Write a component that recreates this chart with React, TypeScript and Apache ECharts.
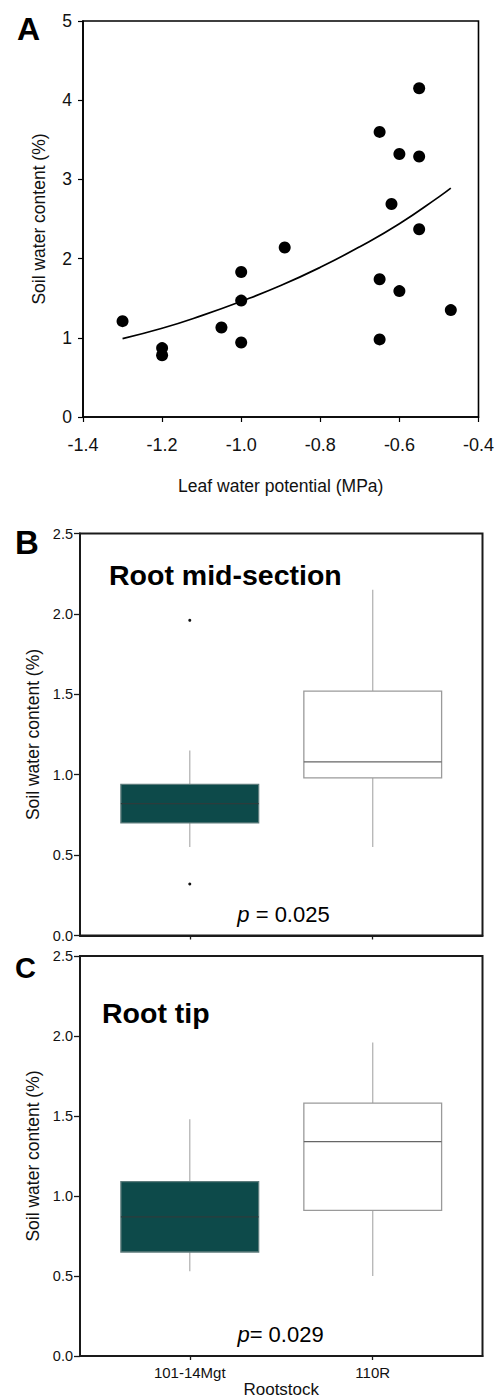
import React, { useEffect, useRef } from 'react';
import * as echarts from 'echarts';

// Panel A: scatter of soil water content vs leaf water potential
const leafWaterPotential = [-1.30, -1.20, -1.20, -1.05, -1.00, -1.00, -1.00, -0.89, -0.65, -0.65, -0.65, -0.62, -0.60, -0.60, -0.55, -0.55, -0.55, -0.47];
const soilWaterContent = [1.21, 0.87, 0.78, 1.13, 1.83, 1.47, 0.94, 2.14, 3.60, 1.74, 0.98, 2.69, 3.32, 1.59, 4.15, 3.29, 2.37, 1.35];
// fitted curve
const fitX = [-1.30, -1.20, -1.10, -1.00, -0.90, -0.80, -0.70, -0.60, -0.50, -0.47];
const fitY = [0.99, 1.12, 1.28, 1.46, 1.66, 1.89, 2.15, 2.44, 2.78, 2.89];

// Panels B and C: box plots by rootstock
const rootstocks = ['101-14Mgt', '110R'];
const rootstockPos = [1, 2];
// [min whisker, Q1, median, Q3, max whisker]
const midSectionStats = [
  [0.55, 0.70, 0.82, 0.94, 1.15],
  [0.55, 0.98, 1.08, 1.52, 2.15],
];
const midSectionOutliers = [
  [1, 1.96],
  [1, 0.32],
];
const rootTipStats = [
  [0.53, 0.65, 0.87, 1.09, 1.48],
  [0.50, 0.91, 1.34, 1.58, 1.96],
];

const FONT = '"Liberation Sans", Arial, Helvetica, sans-serif';
const boxFill = ['#0d4a4a', '#ffffff'];
const boxStroke = ['#5d7c7c', '#9a9a9a'];
const medianStroke = ['#2c3c3c', '#666666'];

function renderBox(params: any, api: any) {
  const x = api.value(0);
  const lo = api.coord([x, api.value(1)]);
  const q1 = api.coord([x, api.value(2)]);
  const med = api.coord([x, api.value(3)]);
  const q3 = api.coord([x, api.value(4)]);
  const hi = api.coord([x, api.value(5)]);
  const w = api.size([0.753, 0])[0];
  const i = params.dataIndex;
  const whisker = { stroke: '#b4b4b4', lineWidth: 1.3 };
  return {
    type: 'group',
    children: [
      { type: 'line', shape: { x1: lo[0], y1: lo[1], x2: q1[0], y2: q1[1] }, style: whisker },
      { type: 'line', shape: { x1: q3[0], y1: q3[1], x2: hi[0], y2: hi[1] }, style: whisker },
      {
        type: 'rect',
        shape: { x: q1[0] - w / 2, y: q3[1], width: w, height: q1[1] - q3[1] },
        style: { fill: boxFill[i], stroke: boxStroke[i], lineWidth: 1.3 },
      },
      {
        type: 'line',
        shape: { x1: med[0] - w / 2, y1: med[1], x2: med[0] + w / 2, y2: med[1] },
        style: { stroke: medianStroke[i], lineWidth: 1.2 },
      },
    ],
  };
}

export default function App() {
  const ref = useRef<HTMLDivElement>(null);

  useEffect(() => {
    document.body.style.margin = '0';
    const chart = echarts.init(ref.current!, undefined, { renderer: 'svg' });

    const labelA = { fontFamily: FONT, fontSize: 17.5, color: '#111' };
    const labelBC = { fontFamily: FONT, fontSize: 14.5, color: '#111' };
    const boxAxisLine = { show: true, lineStyle: { color: '#1a1a1a', width: 2 } };

    const boxXAxis = (gridIndex: number, showLabels: boolean) => ({
      type: 'value',
      gridIndex,
      min: 0.4,
      max: 2.6,
      splitLine: { show: false },
      axisLine: boxAxisLine,
      axisTick: { show: true, length: 4, lineStyle: { color: '#1a1a1a', width: 1.3 }, customValues: rootstockPos },
      axisLabel: {
        show: showLabels,
        customValues: rootstockPos,
        margin: 9,
        ...labelBC,
        fontSize: 15,
        formatter: (v: number) => rootstocks[rootstockPos.indexOf(v)] ?? '',
      },
      name: showLabels ? 'Rootstock' : '',
      nameLocation: 'middle',
      nameGap: 24,
      nameTextStyle: { fontFamily: FONT, fontSize: 17, color: '#111' },
    });

    const boxYAxis = (gridIndex: number) => ({
      type: 'value',
      gridIndex,
      min: 0,
      max: 2.5,
      interval: 0.5,
      splitLine: { show: false },
      axisLine: boxAxisLine,
      axisTick: { show: true, length: 6, lineStyle: { color: '#1a1a1a', width: 1.3 } },
      axisLabel: { margin: 7, ...labelBC, formatter: (v: number) => v.toFixed(1) },
      name: 'Soil water content (%)',
      nameLocation: 'middle',
      nameGap: 28,
      nameTextStyle: { fontFamily: FONT, fontSize: 17.5, color: '#111' },
    });

    chart.setOption({
      animation: false,
      backgroundColor: '#ffffff',
      grid: [
        { left: 83, top: 21, width: 397, height: 396, show: true, borderColor: '#000', borderWidth: 1.6, backgroundColor: 'transparent' },
        { left: 80, top: 533.5, width: 402.5, height: 402, show: true, borderColor: '#1a1a1a', borderWidth: 2, backgroundColor: 'transparent' },
        { left: 80, top: 956, width: 402.5, height: 400, show: true, borderColor: '#1a1a1a', borderWidth: 2, backgroundColor: 'transparent' },
      ],
      xAxis: [
        {
          type: 'value',
          gridIndex: 0,
          min: -1.4,
          max: -0.4,
          interval: 0.2,
          splitLine: { show: false },
          axisLine: { show: true, onZero: false, lineStyle: { color: '#000', width: 1.6 } },
          axisTick: { show: true, length: 5, lineStyle: { color: '#000', width: 1.2 } },
          axisLabel: { margin: 19, ...labelA, fontSize: 18, formatter: (v: number) => v.toFixed(1) },
          name: 'Leaf water potential (MPa)',
          nameLocation: 'middle',
          nameGap: 60,
          nameTextStyle: { fontFamily: FONT, fontSize: 17.5, color: '#111' },
        },
        boxXAxis(1, false),
        boxXAxis(2, true),
      ],
      yAxis: [
        {
          type: 'value',
          gridIndex: 0,
          min: 0,
          max: 5,
          interval: 1,
          splitLine: { show: false },
          axisLine: { show: true, onZero: false, lineStyle: { color: '#000', width: 1.6 } },
          axisTick: { show: true, length: 5, lineStyle: { color: '#000', width: 1.2 } },
          axisLabel: { margin: 11, ...labelA },
          name: 'Soil water content (%)',
          nameLocation: 'middle',
          nameGap: 35,
          nameTextStyle: { fontFamily: FONT, fontSize: 17.5, color: '#111' },
        },
        boxYAxis(1),
        boxYAxis(2),
      ],
      series: [
        {
          type: 'line',
          xAxisIndex: 0,
          yAxisIndex: 0,
          data: fitX.map((x, i) => [x, fitY[i]]),
          smooth: true,
          showSymbol: false,
          symbol: 'none',
          lineStyle: { color: '#000', width: 1.7 },
          z: 2,
        },
        {
          type: 'scatter',
          xAxisIndex: 0,
          yAxisIndex: 0,
          data: leafWaterPotential.map((x, i) => [x, soilWaterContent[i]]),
          symbol: 'circle',
          symbolSize: 12,
          itemStyle: { color: '#000', opacity: 1 },
          z: 3,
        },
        {
          type: 'custom',
          xAxisIndex: 1,
          yAxisIndex: 1,
          renderItem: renderBox,
          encode: { x: 0, y: [1, 2, 3, 4, 5] },
          data: rootstockPos.map((p, i) => [p, ...midSectionStats[i]]),
          z: 2,
        },
        {
          type: 'scatter',
          xAxisIndex: 1,
          yAxisIndex: 1,
          data: midSectionOutliers,
          symbol: 'circle',
          symbolSize: 3,
          itemStyle: { color: '#111', opacity: 1 },
          z: 3,
        },
        {
          type: 'custom',
          xAxisIndex: 2,
          yAxisIndex: 2,
          renderItem: renderBox,
          encode: { x: 0, y: [1, 2, 3, 4, 5] },
          data: rootstockPos.map((p, i) => [p, ...rootTipStats[i]]),
          z: 2,
        },
      ],
      graphic: [
        { type: 'text', left: 17, top: 13, style: { text: 'A', fontFamily: FONT, fontWeight: 'bold', fontSize: 32, fill: '#000' } },
        { type: 'text', left: 15, top: 526, style: { text: 'B', fontFamily: FONT, fontWeight: 'bold', fontSize: 33, fill: '#000' } },
        { type: 'text', left: 15, top: 953, style: { text: 'C', fontFamily: FONT, fontWeight: 'bold', fontSize: 29, fill: '#000' } },
        { type: 'text', x: 109, y: 574.5, style: { text: 'Root mid-section', fontFamily: FONT, fontWeight: 'bold', fontSize: 28.5, fill: '#000', align: 'left', verticalAlign: 'middle' } },
        { type: 'text', x: 102, y: 1013, style: { text: 'Root tip', fontFamily: FONT, fontWeight: 'bold', fontSize: 28.5, fill: '#000', align: 'left', verticalAlign: 'middle' } },
        {
          type: 'text', x: 283.5, y: 914,
          style: {
            text: '{i|p} = 0.025', fontFamily: FONT, fontSize: 22, fill: '#000', align: 'center', verticalAlign: 'middle',
            rich: { i: { fontFamily: FONT, fontStyle: 'italic', fontSize: 22, fill: '#000' } },
          },
        },
        {
          type: 'text', x: 280.5, y: 1334,
          style: {
            text: '{i|p}= 0.029', fontFamily: FONT, fontSize: 22, fill: '#000', align: 'center', verticalAlign: 'middle',
            rich: { i: { fontFamily: FONT, fontStyle: 'italic', fontSize: 22, fill: '#000' } },
          },
        },
      ],
    });

    return () => chart.dispose();
  }, []);

  return <div ref={ref} style={{ width: 497, height: 1399 }} />;
}
